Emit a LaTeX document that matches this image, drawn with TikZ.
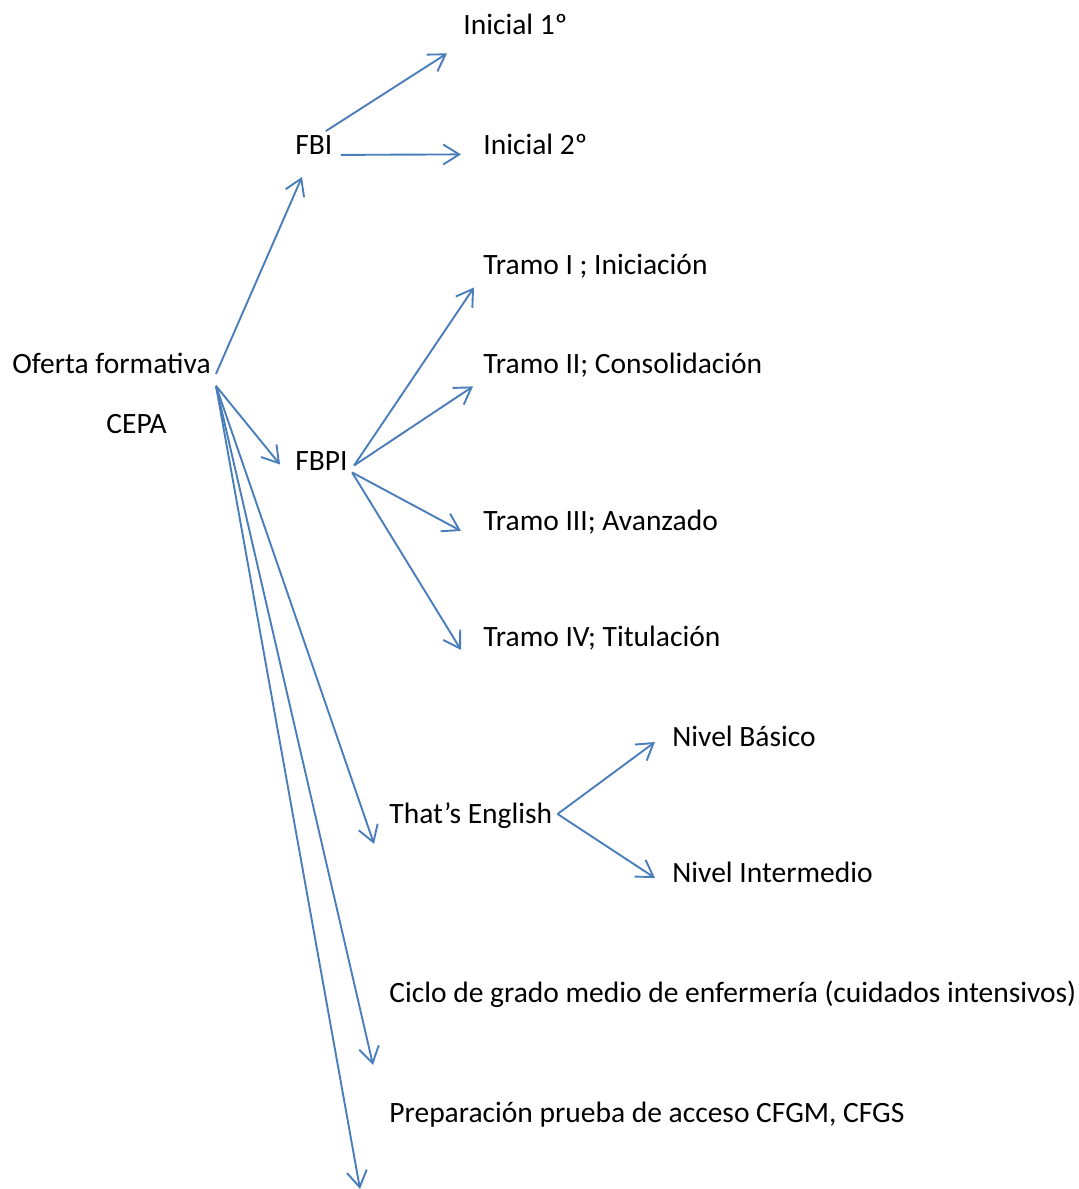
\documentclass[tikz,border=0pt]{standalone}
\usepackage{fontspec}
\setmainfont{Carlito}
\usetikzlibrary{arrows.meta}
\definecolor{arrowblue}{HTML}{4A7EBB}

\begin{document}
\begin{tikzpicture}[x=0.5pt,y=-0.5pt,
  lbl/.style={anchor=base west,inner xsep=2.5pt,inner ysep=0pt,text height=9.5pt,text depth=0pt,font=\fontsize{14.75}{17}\selectfont},
  arr/.style={draw=arrowblue,line width=0.95pt,-{Straight Barb[length=8pt,width=10pt]}}]

\useasboundingbox (0,0) rectangle (1078,1189);

% root
\node[lbl] (oferta) at (7,373.5) {Oferta formativa};
\node[lbl] (cepa) at (101,433.5) {CEPA};

% FBI branch
\node[lbl] (fbi) at (290,154.5) {FBI};
\node[lbl] (ini1) at (458,34) {Inicial 1º};
\node[lbl] (ini2) at (478,154) {Inicial 2º};

% FBPI branch
\node[lbl] (fbpi) at (290,470) {FBPI};
\node[lbl] (tramo1) at (478,274) {Tramo I ; Iniciación};
\node[lbl] (tramo2) at (478,373.5) {Tramo II; Consolidación};
\node[lbl] (tramo3) at (478,530.5) {Tramo III; Avanzado};
\node[lbl] (tramo4) at (478,646.5) {Tramo IV; Titulación};

% That's English
\node[lbl] (english) at (384,823.5) {That’s English};
\node[lbl] (basico) at (667,746.5) {Nivel Básico};
\node[lbl] (intermedio) at (667,882.5) {Nivel Intermedio};

% ciclos
\node[lbl] (ciclo) at (384,1002.5) {Ciclo de grado medio de enfermería (cuidados intensivos)};
\node[lbl] (prueba) at (384,1122.5) {Preparación prueba de acceso CFGM, CFGS};

% from the root
\coordinate (fan) at ([shift={(0,12)}]oferta.south east);
\draw[arr] (oferta.south east) -- ([shift={(12,22)}]fbi.south west);
\draw[arr] (fan) -- ([shift={(-10,4)}]fbpi.west);
\draw[arr] (fan) -- ([shift={(-10,20)}]english.south west);
\draw[arr] (fan) -- ([shift={(-11,62)}]ciclo.south west);
\draw[arr] (fan) -- ([shift={(-24,66)}]prueba.south west);

% FBI
\draw[arr] ([shift={(-12,-4)}]fbi.north east) -- ([shift={(-11,19)}]ini1.south west);
\draw[arr] ([shift={(3,0)}]fbi.south east) -- ([shift={(-17,0)}]ini2.south west);

% FBPI
\draw[arr] ([shift={(1,5)}]fbpi.east) -- ([shift={(-4,13)}]tramo1.south west);
\draw[arr] ([shift={(1,5)}]fbpi.east) -- ([shift={(-5,12.5)}]tramo2.south west);
\draw[arr] ([shift={(-1,2)}]fbpi.south east) -- ([shift={(-17,0)}]tramo3.south west);
\draw[arr] ([shift={(-1,2)}]fbpi.south east) -- ([shift={(-17,3)}]tramo4.south west);

% That's English
\draw[arr] (english.east) -- ([shift={(-12,5)}]basico.west);
\draw[arr] (english.east) -- ([shift={(-12,5)}]intermedio.west);

\end{tikzpicture}
\end{document}
